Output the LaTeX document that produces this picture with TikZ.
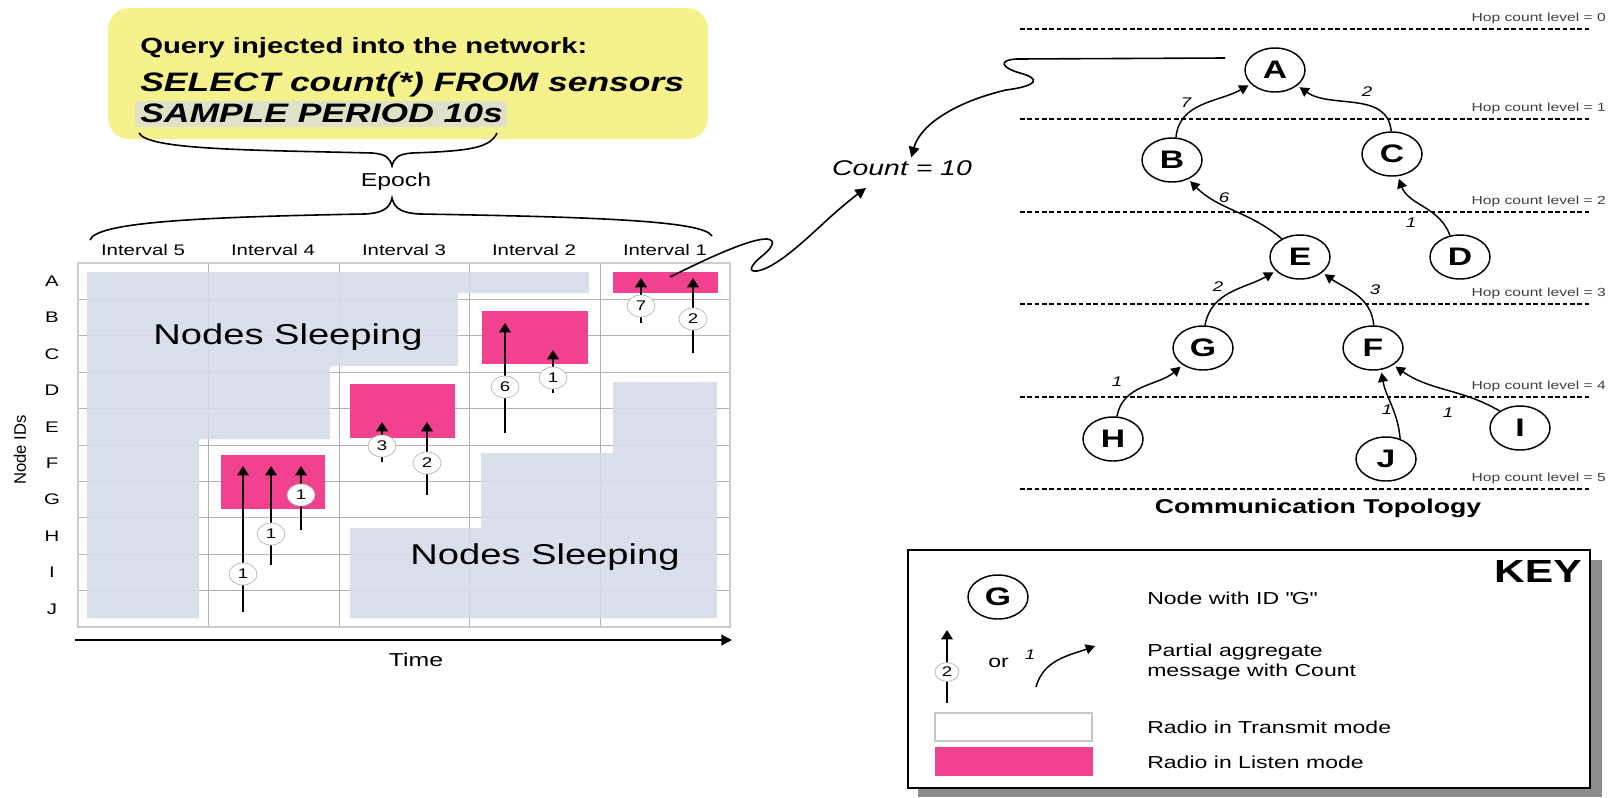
\documentclass[tikz,border=0pt]{standalone}
\usepackage{fontspec}
\setmainfont{Liberation Sans}[FakeStretch=1.33]
\newfontfamily\plainsans{Liberation Sans}
\usetikzlibrary{arrows.meta,shapes.geometric}
\definecolor{pinkc}{HTML}{F2418F}
\definecolor{sleepc}{HTML}{D5DDE9}
\definecolor{yellowc}{HTML}{F5F28D}
\definecolor{hilite}{HTML}{DFE1C9}
\newcommand\myfs[1]{\fontsize{#1pt}{#1pt}\selectfont}
\begin{document}
\begin{tikzpicture}[x=0.75pt,y=-0.75pt,
  lbl/.style={inner sep=0pt, font=\myfs{11.5}},
  msg/.style={line width=1.6pt,-{Triangle[length=7pt,width=8.5pt]}},
  circ/.style={ellipse, draw=gray!60, fill=white, line width=0.5pt, minimum width=21pt, minimum height=16.5pt, inner sep=0pt, font=\myfs{10.5}},
  tnode/.style={ellipse, draw, line width=1.1pt, fill=white, minimum width=45pt, minimum height=33pt, inner sep=0pt, font=\bfseries\myfs{19}},
  tedge/.style={line width=1.1pt, -{Triangle[length=7pt,width=7.5pt]}, shorten >=2pt},
  elab/.style={inner sep=0pt, font=\itshape\myfs{10.5}},
  hopline/.style={line width=1.1pt, dash pattern=on 3.5pt off 2pt},
  hoplab/.style={anchor=east, inner sep=0pt, font=\myfs{8.8}, text=black!75},
  keytxt/.style={anchor=west, inner sep=0pt, font=\myfs{13}},
  sleepstyle/.style={fill=sleepc, fill opacity=0.9},
  listen/.style={fill=pinkc},
  gridline/.style={gray!60, line width=0.6pt},
]
\useasboundingbox (0,0) rectangle (1612,797);
\fill[white] (0,0) rectangle (1612,797);

% ---------------- query box
\fill[yellowc, rounded corners=16pt] (108,8) rectangle (708,139);
\fill[hilite, rounded corners=3pt] (135,101) rectangle (507,127);
\node[anchor=west, inner sep=0pt, font=\bfseries\myfs{16.5}] (q1) at (140,48) {Query injected into the network:};
\node[anchor=west, inner sep=0pt, font=\bfseries\itshape\myfs{20}] (q2) at (140,85) {SELECT count(*) FROM sensors};
\node[anchor=west, inner sep=0pt, font=\bfseries\itshape\myfs{20}] (q3) at (140,113) {SAMPLE PERIOD 10s};

% braces
\draw[line width=1.2pt] (139,133) .. controls (148,150) and (250,150) .. (372,153) .. controls (386,154) and (390,158) .. (392,166) .. controls (394,158) and (398,154) .. (412,153) .. controls (470,151) and (490,148) .. (497,133);
\node[lbl, font=\myfs{14}] (epoch) at (396,182) {Epoch};
\draw[line width=1.2pt] (90,240) .. controls (96,222) and (200,217) .. (365,214) .. controls (386,213) and (390,206) .. (392,198) .. controls (394,206) and (398,213) .. (420,214) .. controls (600,217) and (704,221) .. (712,236);

% intervals
\foreach \i/\x in {5/143,4/273,3/404,2/534,1/665}
  \node[lbl] (int\i) at (\x,250) {Interval \i};

% grid
\foreach \x in {208,339,469,600} \draw[gridline] (\x,263) -- (\x,627);
\foreach \k in {1,...,9} \draw[gridline] (78,{263+36.4*\k}) -- (730,{263+36.4*\k});
\draw[gray!40, line width=0.9pt] (78,263) rectangle (730,627);

\foreach \r [count=\k from 0] in {A,B,C,D,E,F,G,H,I,J}
  \node[lbl] (row\r) at (52,{281.2+36.4*\k}) {\r};
\node[inner sep=0pt, rotate=90, font=\plainsans\myfs{12.5}] (nid) at (20,450) {Node IDs};

% sleeping regions
\fill[sleepstyle] (87,272) -- (589,272) -- (589,293) -- (458,293) -- (458,366) -- (330,366) -- (330,439) -- (199,439) -- (199,618) -- (87,618) -- cycle;
\fill[sleepstyle] (350,528) -- (481,528) -- (481,453) -- (613,453) -- (613,382) -- (717,382) -- (717,618) -- (350,618) -- cycle;

% listen boxes
\fill[listen] (613,272) rectangle (718,293);
\fill[listen] (482,311) rectangle (588,364);
\fill[listen] (350,384) rectangle (455,438);
\fill[listen] (221,455) rectangle (325,509);

\node[lbl, font=\myfs{21.5}] (ns1) at (288,337) {Nodes Sleeping};
\node[lbl, font=\myfs{21.5}] (ns2) at (545,557) {Nodes Sleeping};

% messages
\foreach \x/\b/\t/\c/\n [count=\m] in {243/612/466/574/1, 271/565/466/534/1, 301/530/466/495/1, 382/462/422/446/3, 427/495/422/463/2, 505/433/323/387/6, 553/393/350/378/1, 641/323/278/306/7, 693/353/278/319/2}
{
  \draw[msg] (\x,\b) -- (\x,\t);
  \node[circ] (msg\m) at (\x,\c) {\n};
}

% time axis
\coordinate (t0) at (75,640);
\coordinate (t1) at (732,640);
\draw[line width=1.5pt,-{Triangle[length=8pt,width=8pt]}] (t0) -- (t1);
\node[lbl, font=\myfs{14}] (time) at (416,660) {Time};

% count
\node[inner sep=2pt, font=\itshape\myfs{16}] (count) at (902,168) {Count = 10};
\coordinate (p1c) at (670,277);
\coordinate (cin) at (866,188);
\draw[line width=1.2pt,-{Triangle[length=8pt,width=8pt]}] (p1c) .. controls (700,262) and (750,238) .. (767,239) .. controls (778,240) and (770,250) .. (762,256) .. controls (750,266) and (748,272) .. (757,271) .. controls (775,268) and (800,245) .. (827,220) .. controls (840,208) and (855,196) .. (cin);

% ---------------- topology
\foreach \y/\l in {29/0,119/1,212/2,304/3,397/4,489/5}
{
  \draw[hopline] (1020,\y) -- (1590,\y);
  \node[hoplab] (hop\l) at (1606,\y-11) {Hop count level = \l};
}

\node[tnode] (A) at (1275,70) {A};
\node[tnode] (B) at (1172,160) {B};
\node[tnode] (C) at (1392,154) {C};
\node[tnode] (D) at (1460,257) {D};
\node[tnode] (E) at (1300,257) {E};
\node[tnode] (F) at (1373,348) {F};
\node[tnode] (G) at (1203,348) {G};
\node[tnode] (H) at (1113,439) {H};
\node[tnode] (I) at (1520,428) {I};
\node[tnode] (J) at (1386,459) {J};

\draw[tedge] (B.80) to[out=85,in=-150] (A.-150);
\draw[tedge] (C.92) to[out=95,in=-35] (A.-35);
\draw[tedge] (E.135) to[out=140,in=-45] (B.-50);
\draw[tedge] (D.115) to[out=110,in=-70] (C.-75);
\draw[tedge] (G.85) to[out=80,in=-150] (E.-150);
\draw[tedge] (F.88) to[out=95,in=-35] (E.-35);
\draw[tedge] (H.80) to[out=80,in=-140] (G.-140);
\draw[tedge] (J.55) to[out=95,in=-80] (F.-70);
\draw[tedge] (I.140) to[out=150,in=-35] (F.-40);

\node[elab] (l7) at (1186,103) {7};
\node[elab] (l2a) at (1367,92) {2};
\node[elab] (l6) at (1224,198) {6};
\node[elab] (l1a) at (1411,223) {1};
\node[elab] (l2b) at (1218,287) {2};
\node[elab] (l3) at (1375,290) {3};
\node[elab] (l1b) at (1117,382) {1};
\node[elab] (l1c) at (1387,410) {1};
\node[elab] (l1d) at (1448,413) {1};

\node[inner sep=0pt, font=\bfseries\myfs{15}] (topo) at (1318,508) {Communication Topology};

% A -> Count
\coordinate (aleft) at (1225,58);
\draw[line width=1.2pt,-{Triangle[length=8pt,width=8pt]}] (aleft) -- (1017,59) .. controls (997,60) and (1002,68) .. (1020,73) .. controls (1042,79) and (1037,86) .. (1006,90) .. controls (955,102) and (920,125) .. ([xshift=7pt]count.north);

% ---------------- key
\fill[black!45] (918,560) rectangle (1602,797);
\draw[fill=white, line width=1.5pt] (908,550) rectangle (1590,788);
\node[anchor=north east, inner sep=0pt, font=\bfseries\myfs{24}] (key) at (1582,560) {KEY};
\node[tnode] (kG) at (998,597) {G};
\node[keytxt] (k1) at (1147,598) {Node with ID \textquotedbl G\textquotedbl};
\coordinate (ka0) at (947,703);
\coordinate (ka1) at (947,630);
\draw[msg] (ka0) -- (ka1);
\node[circ, minimum width=18pt, minimum height=14pt] (k2) at (947,672) {2};
\node[keytxt] (kor) at (988,663) {or};
\node[elab] (k1l) at (1030,655) {1};
\coordinate (kc0) at (1036,687);
\coordinate (kc1) at (1095,646);
\draw[tedge, shorten >=0pt] (kc0) to[out=75,in=200] (kc1);
\node[anchor=west, inner sep=0pt, align=left, font={\fontsize{13pt}{15pt}\selectfont}] (k2t) at (1147,662) {Partial aggregate\\message with Count};
\draw[gray!45, line width=0.8pt, fill=white] (935,713) rectangle (1092,741);
\fill[pinkc] (935,747) rectangle (1093,776);
\node[keytxt] (k3) at (1147,727) {Radio in Transmit mode};
\node[keytxt] (k4) at (1147,762) {Radio in Listen mode};
\end{tikzpicture}
\end{document}
